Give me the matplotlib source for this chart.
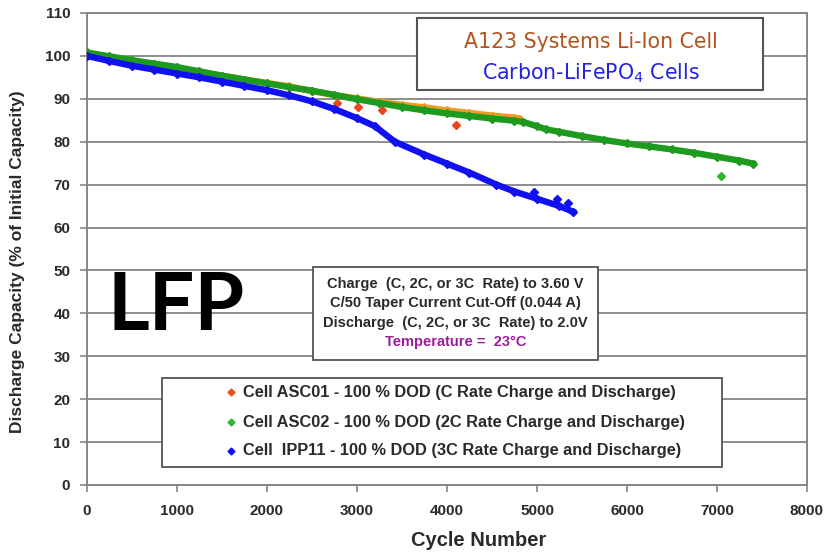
import matplotlib.pyplot as plt
from matplotlib.patches import Rectangle
from matplotlib.lines import Line2D

# cycle life data
cyc_asc01 = [0, 250, 500, 750, 1000, 1250, 1500, 1750, 2000, 2250, 2500, 2750,
             3000, 3250, 3500, 3750, 4000, 4250, 4500, 4750, 4800]
cap_asc01 = [100.5, 99.7, 98.9, 98.0, 97.2, 96.3, 95.4, 94.5, 93.7, 92.9, 91.8, 90.9,
             90.1, 89.3, 88.6, 88.0, 87.3, 86.7, 86.1, 85.6, 85.4]
out_cyc_asc01 = [2775, 3010, 3275, 4100]
out_cap_asc01 = [89.0, 88.2, 87.4, 83.8]

cyc_asc02 = [0, 250, 500, 750, 1000, 1250, 1500, 1750, 2000, 2250, 2500, 2750,
             3000, 3250, 3500, 3750, 4000, 4250, 4500, 4750, 4850, 5000, 5100,
             5250, 5500, 5750, 6000, 6250, 6500, 6750, 7000, 7250, 7400]
cap_asc02 = [100.8, 99.9, 99.0, 98.2, 97.4, 96.4, 95.4, 94.5, 93.6, 92.7, 91.9, 90.9,
             89.9, 89.0, 88.1, 87.3, 86.6, 86.0, 85.4, 84.9, 84.6, 83.6, 82.9,
             82.3, 81.3, 80.4, 79.6, 78.9, 78.2, 77.4, 76.5, 75.6, 74.9]
out_cyc_asc02 = [7050]
out_cap_asc02 = [72.0]

cyc_ipp11 = [0, 250, 500, 750, 1000, 1250, 1500, 1750, 2000, 2250, 2500, 2750,
             3000, 3200, 3420, 3750, 4000, 4250, 4550, 4750, 5000, 5250, 5400]
cap_ipp11 = [100.0, 98.8, 97.7, 96.8, 95.9, 95.0, 94.0, 93.0, 92.0, 90.8, 89.4, 87.6,
             85.5, 83.6, 80.0, 77.0, 74.9, 72.8, 70.0, 68.4, 66.7, 65.0, 63.7]
out_cyc_ipp11 = [4967, 5222, 5344]
out_cap_ipp11 = [68.4, 66.7, 65.8]

legend_labels = ["Cell ASC01 - 100 % DOD (C Rate Charge and Discharge)",
                 "Cell ASC02 - 100 % DOD (2C Rate Charge and Discharge)",
                 "Cell  IPP11 - 100 % DOD (3C Rate Charge and Discharge)"]
cond_lines = ["Charge  (C, 2C, or 3C  Rate) to 3.60 V",
              "C/50 Taper Current Cut-Off (0.044 A)",
              "Discharge  (C, 2C, or 3C  Rate) to 2.0V",
              "Temperature =  23\u00b0C"]

W, H = 828, 559
def fx(x):
    return x / W
def fy(y):
    return 1 - y / H

plt.rcParams['font.family'] = ['Liberation Sans', 'DejaVu Sans']
txt = '#2a2a2a'
grey = '#858585'

fig = plt.figure(figsize=(W / 100, H / 100), dpi=100)
ax = fig.add_axes([fx(87), fy(485), 720 / W, 472 / H])

c_or, c_gr, c_bl = '#F09A24', '#1E9A1E', '#1010F0'
lw, ms = 4.6, 4
ax.plot(cyc_asc01, cap_asc01, color=c_or, lw=lw, marker='D', ms=ms, zorder=3)
ax.plot(out_cyc_asc01, out_cap_asc01, ls='none', color='#E8461C', marker='D', ms=ms, zorder=3)
ax.plot(cyc_asc02, cap_asc02, color=c_gr, lw=lw, marker='D', ms=ms, zorder=4)
ax.plot(out_cyc_asc02, out_cap_asc02, ls='none', color='#2DB82D', marker='D', ms=ms, zorder=4)
ax.plot(cyc_ipp11, cap_ipp11, color=c_bl, lw=lw, marker='D', ms=ms, zorder=5)
ax.plot(out_cyc_ipp11, out_cap_ipp11, ls='none', color=c_bl, marker='D', ms=ms, zorder=5)

ax.set_xlim(0, 8000)
ax.set_ylim(0, 110)
ax.set_xticks(range(0, 8001, 1000))
ax.set_yticks(range(0, 111, 10))
ax.yaxis.grid(True, color=grey, lw=1.3)
ax.set_axisbelow(True)
for s in ax.spines.values():
    s.set_color(grey)
    s.set_linewidth(1.4)
ax.tick_params(colors=grey, width=1.2, length=5, labelcolor=txt, labelsize=11)
ax.tick_params(axis='y', pad=7)
ax.tick_params(axis='x', pad=9)
for lab in ax.get_xticklabels() + ax.get_yticklabels():
    lab.set_fontweight('bold')

fig.text(fx(18), fy(262), "Discharge Capacity (% of Initial Capacity)", rotation=90,
         ha='center', va='center', fontsize=12.5, fontweight='bold', color=txt)
fig.text(fx(479), fy(541), "Cycle Number", ha='center', va='center',
         fontsize=14.5, fontweight='bold', color=txt)

# title box
fig.add_artist(Rectangle((fx(417), fy(90)), 346 / W, 72 / H, transform=fig.transFigure,
                         facecolor='white', edgecolor='#555555', lw=1.5, zorder=6))
fig.text(fx(591), fy(42), "A123 Systems Li-Ion Cell", ha='center', va='center',
         family='DejaVu Sans', fontsize=14.8, color='#B4521E', zorder=7)
fig.text(fx(591), fy(73), "Carbon-LiFePO$_4$ Cells", ha='center', va='center',
         family='DejaVu Sans', fontsize=14.8, color='#2424E0', zorder=7)

# test conditions box
fig.add_artist(Rectangle((fx(313), fy(360)), 285 / W, 93 / H, transform=fig.transFigure,
                         facecolor='white', edgecolor='#555555', lw=1.3, zorder=6))
for i, (line, yy) in enumerate(zip(cond_lines, [284, 303, 323, 342])):
    fig.text(fx(455.5), fy(yy), line, ha='center', va='center', fontsize=10.5,
             fontweight='bold', color='#9B1E9B' if i == 3 else txt, zorder=7)

# legend box
fig.add_artist(Rectangle((fx(162), fy(467)), 560 / W, 89 / H, transform=fig.transFigure,
                         facecolor='white', edgecolor='#555555', lw=1.3, zorder=6))
for lab, col, yy in zip(legend_labels, ['#EE4E1E', '#2DB82D', c_bl], [392, 422, 451]):
    fig.add_artist(Line2D([fx(231)], [fy(yy)], transform=fig.transFigure, marker='D',
                          ms=3.5, color=col, zorder=7))
    fig.text(fx(243), fy(yy), lab, ha='left', va='center', fontsize=11.8,
             fontweight='bold', color=txt, zorder=7)

fig.text(fx(108), fy(330), "LFP", ha='left', va='baseline', family=['Lato', 'DejaVu Sans'],
         fontsize=58, fontweight='bold', color='black', zorder=8)

fig.savefig('out.png', dpi=100)
